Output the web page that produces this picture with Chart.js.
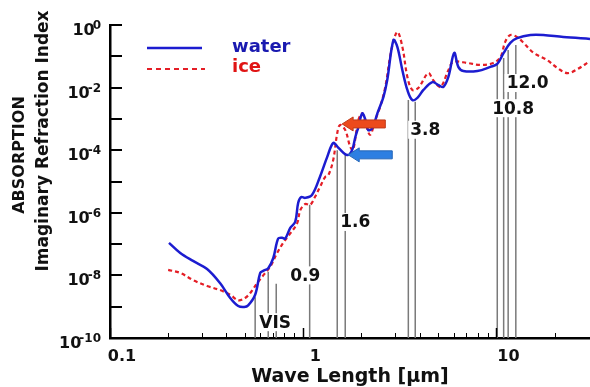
<!DOCTYPE html>
<html>
<head>
<meta charset="utf-8">
<script src="https://cdn.jsdelivr.net/npm/chart.js@4.4.1/dist/chart.umd.min.js"></script>
<style>
  html, body { margin: 0; padding: 0; background: #fff; }
  #wrap { width: 590px; height: 387px; }
</style>
</head>
<body>
<div id="wrap"><canvas id="absChart" width="590" height="387"></canvas></div>
<script>
// Wavelength (um) and imaginary refraction index
const waterWavelength = [0.202,0.231,0.269,0.318,0.371,0.419,0.461,0.495,0.519,0.564,0.599,0.621,0.659,0.700,0.742,0.778,0.807,0.857,0.909,0.942,0.977,1.024,1.11,1.22,1.33,1.43,1.52,1.69,1.79,1.86,1.93,2.02,2.10,2.17,2.28,2.42,2.60,2.72,2.93,3.07,3.26,3.46,3.67,3.90,4.19,4.66,5.01,5.31,5.64,6.05,6.35,6.74,7.97,9.31,10.1,10.9,11.8,12.8,15.0,17.5,22.2,30.5];
const waterK = [1.1e-7,5.2e-8,2.9e-8,1.6e-8,5.7e-9,1.9e-9,1.05e-9,9.8e-10,1.1e-9,2.4e-9,1.2e-8,1.4e-8,1.7e-8,3.6e-8,1.5e-7,1.6e-7,1.5e-7,3.3e-7,5.1e-7,2.1e-6,3.2e-6,3.0e-6,3.7e-6,1.4e-5,6.0e-5,1.7e-4,1.2e-4,7.0e-5,1.0e-4,2.6e-4,5.5e-4,1.5e-3,9.2e-4,4.4e-4,5.1e-4,1.5e-3,5.0e-3,1.7e-2,0.33,0.20,3.6e-2,8.4e-3,4.0e-3,4.7e-3,8.4e-3,1.5e-2,1.2e-2,1.05e-2,2.2e-2,0.128,4.6e-2,3.4e-2,3.4e-2,4.6e-2,5.7e-2,0.128,0.27,0.38,0.48,0.48,0.41,0.36];

const iceWavelength = [0.200,0.231,0.269,0.318,0.371,0.419,0.461,0.500,0.531,0.578,0.621,0.675,0.733,0.788,0.857,0.931,0.965,1.024,1.087,1.15,1.22,1.30,1.35,1.43,1.50,1.55,1.65,1.75,1.81,1.93,2.02,2.10,2.22,2.36,2.50,2.66,2.86,3.07,3.26,3.46,3.67,3.94,4.44,4.72,5.13,5.64,5.98,7.07,8.25,9.64,10.5,11.1,11.8,12.8,13.8,15.6,18.3,20.7,23.3,26.3,30.0];
const iceK = [1.5e-8,1.2e-8,7.1e-9,4.6e-9,3.4e-9,2.4e-9,1.6e-9,1.9e-9,2.7e-9,5.7e-9,1.0e-8,1.9e-8,5.2e-8,1.1e-7,2.2e-7,4.7e-7,1.2e-6,1.9e-6,1.8e-6,3.2e-6,6.6e-6,1.4e-5,1.6e-5,4.9e-5,3.5e-4,6.4e-4,4.4e-4,1.3e-4,1.0e-4,9.2e-4,1.5e-3,7.4e-4,3.1e-4,9.2e-4,2.4e-3,1.05e-2,0.16,0.60,0.20,2.2e-2,8.4e-3,9.7e-3,2.9e-2,1.7e-2,1.05e-2,3.6e-2,6.6e-2,6.1e-2,5.3e-2,6.1e-2,9.5e-2,0.29,0.48,0.41,0.27,0.128,7.6e-2,4.2e-2,2.9e-2,3.9e-2,6.6e-2];

// satellite channel lines (wavelength, height of line top)
const channelWavelength = [0.564,0.659,0.725,1.08,1.50,1.65,3.50,3.80,10.1,10.9,11.5,12.6];
const channelTop = [2.0e-9,1.3e-8,5.4e-9,1.8e-6,1.0e-4,7.0e-5,4.0e-3,3.5e-3,5.6e-2,8.9e-2,0.16,0.23];

// channel labels
const channelLabels = ['VIS','0.9','1.6','3.8','10.8','12.0'];
const channelLabelX = [0.716,1.024,1.86,4.28,12.2,14.5];
const channelLabelY = [3.2e-10,1.0e-8,5.1e-7,4.5e-4,2.2e-3,1.4e-2];

// axes
const xMin = 0.1, xMax = 30.5, yMin = 1e-10, yMax = 1;
const xMajorTicks = [0.1, 1, 10];
const xMajorLabels = ['0.1', '1', '10'];
const xMinorTicks = [0.2,0.3,0.4,0.5,0.6,0.7,0.8,0.9,2,3,4,5,6,7,8,9,20];
const yTickExponents = [0,-1,-2,-3,-4,-5,-6,-7,-8,-9,-10];
const yLabelExponents = [0,-2,-4,-6,-8,-10];

// arrows: [tail wavelength, tip wavelength, k]
const redArrow = [2.66, 1.59, 6.9e-4];
const blueArrow = [2.89, 1.71, 7.1e-5];

const FONT = "'DejaVu Sans', sans-serif";

function pts(xs, ys) {
    return xs.map((x, i) => ({ x: x, y: ys[i] }));
}

// channel lines as one dataset, null breaks between lines
const channelPoints = [];
channelWavelength.forEach((w, i) => {
    channelPoints.push({ x: w, y: yMin }, { x: w, y: channelTop[i] }, { x: w, y: null });
});

function supMinus(e) {
    return e === 0 ? '0' : '-' + Math.abs(e);
}

// ticks drawn inward + custom tick labels + titles + legend
const decorPlugin = {
    id: 'decor',
    afterDatasetDraw(chart, args) {
        if (args.index !== 0) return;
        // labels over the channel lines, white box behind
        const ctx = chart.ctx, xs = chart.scales.x, ys = chart.scales.y;
        ctx.save();
        ctx.font = 'bold 17px ' + FONT;
        ctx.textAlign = 'center';
        ctx.textBaseline = 'middle';
        channelLabels.forEach((t, i) => {
            const px = xs.getPixelForValue(channelLabelX[i]);
            const py = ys.getPixelForValue(channelLabelY[i]);
            const w = ctx.measureText(t).width;
            ctx.fillStyle = '#fff';
            ctx.fillRect(px - w / 2 - 2, py - 9, w + 4, 18);
            ctx.fillStyle = '#111';
            ctx.fillText(t, px, py + 1);
        });
        ctx.restore();
    },
    afterDatasetsDraw(chart) {
        const ctx = chart.ctx, xs = chart.scales.x, ys = chart.scales.y;
        function arrow(a, fill, edge) {
            const x0 = xs.getPixelForValue(a[0]);
            const x1 = xs.getPixelForValue(a[1]);
            const y = ys.getPixelForValue(a[2]);
            ctx.save();
            ctx.beginPath();
            ctx.moveTo(x1, y);
            ctx.lineTo(x1 + 11, y - 7);
            ctx.lineTo(x1 + 11, y - 4);
            ctx.lineTo(x0, y - 4);
            ctx.lineTo(x0, y + 4);
            ctx.lineTo(x1 + 11, y + 4);
            ctx.lineTo(x1 + 11, y + 7);
            ctx.closePath();
            ctx.fillStyle = fill;
            ctx.fill();
            ctx.strokeStyle = edge;
            ctx.lineWidth = 1;
            ctx.stroke();
            ctx.restore();
        }
        arrow(redArrow, '#ec4a1c', '#c03a1a');
        arrow(blueArrow, '#2d7fe2', '#2566b8');
    },
    afterDraw(chart) {
        const ctx = chart.ctx, xs = chart.scales.x, ys = chart.scales.y, a = chart.chartArea;
        ctx.save();
        ctx.strokeStyle = '#000';
        // x ticks, pointing up
        ctx.lineWidth = 1;
        xMinorTicks.forEach(v => {
            const px = Math.round(xs.getPixelForValue(v)) + 0.5;
            ctx.beginPath(); ctx.moveTo(px, a.bottom); ctx.lineTo(px, a.bottom - 5); ctx.stroke();
        });
        ctx.lineWidth = 1.5;
        xMajorTicks.forEach(v => {
            const px = Math.round(xs.getPixelForValue(v)) + 0.5;
            ctx.beginPath(); ctx.moveTo(px, a.bottom); ctx.lineTo(px, a.bottom - 10); ctx.stroke();
        });
        // y ticks, pointing right
        ctx.lineWidth = 2;
        yTickExponents.forEach(e => {
            const py = Math.round(ys.getPixelForValue(Math.pow(10, e)));
            ctx.beginPath(); ctx.moveTo(a.left, py); ctx.lineTo(a.left + 12, py); ctx.stroke();
        });

        ctx.fillStyle = '#111';
        // x tick labels (shifted right like the original)
        ctx.font = 'bold 16px ' + FONT;
        ctx.textAlign = 'center';
        ctx.textBaseline = 'alphabetic';
        xMajorTicks.forEach((v, i) => {
            ctx.fillText(xMajorLabels[i], xs.getPixelForValue(v) + 12, 361);
        });
        // y tick labels 10^n
        yLabelExponents.forEach(e => {
            const py = ys.getPixelForValue(Math.pow(10, e));
            const ex = supMinus(e);
            ctx.font = 'bold 12px ' + FONT;
            const we = ctx.measureText(ex).width;
            ctx.textAlign = 'left';
            ctx.fillText(ex, a.left - 9 - we, py + 4);
            ctx.font = 'bold 16px ' + FONT;
            ctx.textAlign = 'right';
            ctx.fillText('10', a.left - 7 - we, py + 10);
        });

        // axis titles
        ctx.font = 'bold 19px ' + FONT;
        ctx.textAlign = 'center';
        ctx.fillText('Wave Length [\u03bcm]', (a.left + a.right) / 2, 382);

        ctx.save();
        ctx.translate(44, 141);
        ctx.rotate(-Math.PI / 2);
        ctx.font = 'bold 17px ' + FONT;
        ctx.textBaseline = 'middle';
        ctx.fillText('Imaginary Refraction Index', 0, 0);
        ctx.restore();
        ctx.save();
        ctx.translate(20, 155);
        ctx.rotate(-Math.PI / 2);
        ctx.font = 'bold 16px ' + FONT;
        ctx.textBaseline = 'middle';
        ctx.fillText('ABSORPTION', 0, 0);
        ctx.restore();

        // legend
        ctx.lineWidth = 2.5;
        ctx.strokeStyle = '#1c1cd0';
        ctx.beginPath(); ctx.moveTo(147, 48); ctx.lineTo(202, 48); ctx.stroke();
        ctx.lineWidth = 2;
        ctx.strokeStyle = '#e41e26';
        ctx.setLineDash([5, 4]);
        ctx.beginPath(); ctx.moveTo(147, 69); ctx.lineTo(205, 69); ctx.stroke();
        ctx.setLineDash([]);
        ctx.font = 'bold 18px ' + FONT;
        ctx.textAlign = 'left';
        ctx.textBaseline = 'middle';
        ctx.fillStyle = '#1a1ab0';
        ctx.fillText('water', 232, 47);
        ctx.fillStyle = '#e01414';
        ctx.fillText('ice', 232, 67);
        ctx.restore();
    }
};

new Chart(document.getElementById('absChart'), {
    type: 'line',
    data: {
        datasets: [
            {
                label: 'channels',
                data: channelPoints,
                borderColor: '#7a7a7a',
                borderWidth: 1.5,
                pointRadius: 0,
                tension: 0,
                spanGaps: false,
                order: 3
            },
            {
                label: 'ice',
                data: pts(iceWavelength, iceK),
                borderColor: '#e41e26',
                borderWidth: 2.2,
                borderDash: [4, 3],
                pointRadius: 0,
                tension: 0.35,
                order: 2
            },
            {
                label: 'water',
                data: pts(waterWavelength, waterK),
                borderColor: '#1c1cd0',
                borderWidth: 2.5,
                pointRadius: 0,
                tension: 0.35,
                order: 1
            }
        ]
    },
    options: {
        responsive: false,
        animation: false,
        devicePixelRatio: 1,
        layout: { padding: { left: 0, top: 25, right: 0, bottom: 0 } },
        plugins: {
            legend: { display: false },
            tooltip: { enabled: false }
        },
        scales: {
            x: {
                type: 'logarithmic',
                min: xMin,
                max: xMax,
                grid: { display: false, drawTicks: false },
                border: { display: true, color: '#000', width: 2.5 },
                ticks: { display: false },
                afterFit: s => { s.height = 49; }
            },
            y: {
                type: 'logarithmic',
                min: yMin,
                max: yMax,
                grid: { display: false, drawTicks: false },
                border: { display: true, color: '#000', width: 2.5 },
                ticks: { display: false },
                afterFit: s => { s.width = 110; }
            }
        }
    },
    plugins: [decorPlugin]
});
</script>
</body>
</html>
